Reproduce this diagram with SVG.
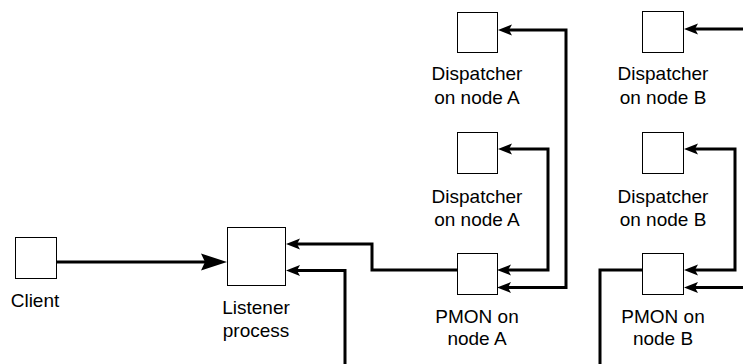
<svg xmlns="http://www.w3.org/2000/svg" width="743" height="364" viewBox="0 0 743 364">
<style>
.box{fill:#fff;stroke:#000;stroke-width:1}
.lbl{font-family:"Liberation Sans",Arial,sans-serif;font-size:19px;fill:#000;text-anchor:middle}
.wire{fill:none;stroke:#000;stroke-width:3}
.sa{marker-end:url(#ah)}
</style>
<defs>
<marker id="ah" markerUnits="userSpaceOnUse" orient="auto-start-reverse" refX="0" refY="0" markerWidth="20" markerHeight="20" overflow="visible">
<path d="M11,0 L-3,-5.5 L0,0 L-3,5.5 Z" fill="#000"/>
</marker>
<marker id="big" markerUnits="userSpaceOnUse" orient="auto" refX="0" refY="0" markerWidth="30" markerHeight="30" overflow="visible">
<path d="M22,0 L-4,-8.5 L0,0 L-4,8.5 Z" fill="#000"/>
</marker>
</defs>
<g id="connectors">
<path class="wire" d="M57,262 H205" marker-end="url(#big)"/>
<path class="wire" d="M457,270 H372 V244 H297" marker-end="url(#ah)"/>
<path class="wire" d="M297,270.5 H345 V364" marker-start="url(#ah)"/>
<path class="wire" d="M509,30 H566 V287.5 H508" marker-start="url(#ah)" marker-end="url(#ah)"/>
<path class="wire" d="M509,149 H548 V270 H508" marker-start="url(#ah)" marker-end="url(#ah)"/>
<path class="wire" d="M695,29 H743" marker-start="url(#ah)"/>
<path class="wire" d="M695,149 H735 V270 H695" marker-start="url(#ah)" marker-end="url(#ah)"/>
<path class="wire" d="M695,287.5 H743" marker-start="url(#ah)"/>
<path class="wire" d="M642,270 H600 V364"/>
</g>
<g id="client">
<rect class="box" x="15.5" y="237.5" width="41" height="41"/>
<text class="lbl" x="35" y="307">Client</text>
</g>
<g id="listener">
<rect class="box" x="227.5" y="227.5" width="58" height="58"/>
<text class="lbl" x="256" y="314">Listener</text>
<text class="lbl" x="256" y="337">process</text>
</g>
<g id="dispA1">
<rect class="box" x="457.5" y="12.5" width="40" height="40"/>
<text class="lbl" x="477" y="80">Dispatcher</text>
<text class="lbl" x="477" y="104">on node A</text>
</g>
<g id="dispA2">
<rect class="box" x="457.5" y="132.5" width="40" height="41"/>
<text class="lbl" x="477" y="203">Dispatcher</text>
<text class="lbl" x="477" y="226">on node A</text>
</g>
<g id="pmonA">
<rect class="box" x="457.5" y="253.5" width="40" height="41"/>
<text class="lbl" x="477" y="323">PMON on</text>
<text class="lbl" x="477" y="345">node A</text>
</g>
<g id="dispB1">
<rect class="box" x="642.5" y="11.5" width="41" height="41"/>
<text class="lbl" x="663" y="80">Dispatcher</text>
<text class="lbl" x="663" y="104">on node B</text>
</g>
<g id="dispB2">
<rect class="box" x="642.5" y="132.5" width="41" height="41"/>
<text class="lbl" x="663" y="203">Dispatcher</text>
<text class="lbl" x="663" y="226">on node B</text>
</g>
<g id="pmonB">
<rect class="box" x="642.5" y="253.5" width="41" height="41"/>
<text class="lbl" x="663" y="323">PMON on</text>
<text class="lbl" x="663" y="345">node B</text>
</g>
</svg>
